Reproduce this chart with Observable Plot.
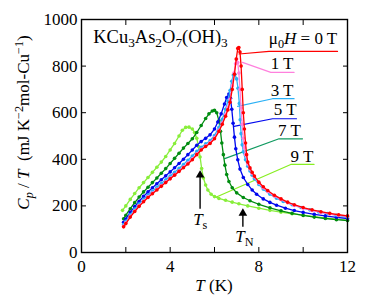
<!DOCTYPE html>
<html><head><meta charset="utf-8">
<script src="https://cdn.jsdelivr.net/npm/d3@7"></script>
<script src="https://cdn.jsdelivr.net/npm/@observablehq/plot@0.6"></script>
<style>
body{margin:0;background:#fff;}
#chart{width:382px;height:304px;}
#chart svg, #chart svg text, #chart svg tspan{font-family:"Liberation Serif","Times New Roman",Times,serif;}
</style></head><body><div id="chart"></div>
<script>
// ---- data ----
const fields = ["0 T", "1 T", "3 T", "5 T", "7 T", "9 T"];
const colors = ["#ff0000", "#ff80dd", "#2ab0f5", "#0008ee", "#008c10", "#88ee3a"];
const leaderColors = ["#ff0000", "#ff80dd", "#2ab0f5", "#0008ee", "#109a60", "#88ee22"];

// 0 T
const t0 = [1.9,2.0,2.2,2.4,2.6,2.8,3.0,3.2,3.4,3.6,3.8,4.0,4.2,4.4,4.6,4.8,5.0,5.2,5.4,5.6,5.8,6.0,6.2,6.35,6.5,6.6,6.7,6.8,6.9,6.98,7.05,7.1,7.15,7.2,7.25,7.3,7.35,7.4,7.45,7.5,7.6,7.7,7.8,8.0,8.2,8.4,8.7,9.0,9.3,9.6,10.0,10.4,10.8,11.2,11.6,12.0];
const c0 = [110,124,152,176,198,218,236,252,268,284,300,316,332,348,364,380,398,420,440,455,468,488,520,550,585,612,645,700,765,830,876,880,860,800,700,600,530,470,420,388,363,344,328,302,282,266,246,230,216,205,193,183,175,168,162,157];
// 1 T
const t1 = [1.9,2.0,2.2,2.4,2.6,2.8,3.0,3.2,3.4,3.6,3.8,4.0,4.2,4.4,4.6,4.8,5.0,5.2,5.4,5.6,5.8,6.0,6.2,6.35,6.5,6.6,6.7,6.8,6.88,6.95,7.0,7.05,7.1,7.15,7.2,7.25,7.3,7.35,7.4,7.5,7.6,7.7,7.8,8.0,8.2,8.4,8.7,9.0,9.3,9.6,10.0,10.4,10.8,11.2,11.6,12.0];
const c1 = [113,127,155,179,201,221,239,255,271,287,303,319,335,351,367,384,402,424,443,458,472,492,525,556,592,622,658,715,770,810,830,815,770,700,620,550,490,450,420,380,358,340,325,298,278,262,242,227,213,202,190,180,172,165,159,154];
// 3 T
const t3 = [1.9,2.0,2.2,2.4,2.6,2.8,3.0,3.2,3.4,3.6,3.8,4.0,4.2,4.4,4.6,4.8,5.0,5.2,5.4,5.6,5.8,6.0,6.2,6.35,6.5,6.6,6.7,6.78,6.85,6.92,7.0,7.06,7.12,7.16,7.2,7.25,7.3,7.4,7.5,7.6,7.7,7.8,8.0,8.2,8.5,8.8,9.1,9.5,9.9,10.3,10.7,11.1,11.5,12.0];
const c3 = [120,134,162,186,208,228,246,263,280,296,312,328,344,361,378,396,414,434,452,466,480,502,537,572,615,650,695,735,762,765,745,705,640,570,510,462,432,398,370,350,332,317,292,272,250,233,219,205,193,183,174,167,160,152];
// 5 T
const t5 = [1.9,2.0,2.2,2.4,2.6,2.8,3.0,3.2,3.4,3.6,3.8,4.0,4.2,4.4,4.6,4.8,5.0,5.2,5.4,5.6,5.8,6.0,6.15,6.3,6.45,6.55,6.65,6.72,6.78,6.84,6.9,6.96,7.05,7.15,7.3,7.5,7.7,7.9,8.2,8.5,8.8,9.2,9.6,10.0,10.5,11.0,11.5,12.0];
const c5 = [130,144,172,197,220,241,260,278,295,312,329,346,364,382,400,420,440,460,476,490,505,530,560,595,637,665,680,662,615,555,495,445,398,358,322,292,268,250,230,215,203,190,180,172,164,157,151,146];
// 7 T
const t7 = [1.9,2.0,2.2,2.4,2.6,2.8,3.0,3.2,3.4,3.6,3.8,4.0,4.2,4.4,4.6,4.8,5.0,5.2,5.4,5.6,5.75,5.9,6.0,6.1,6.2,6.27,6.33,6.4,6.47,6.55,6.65,6.8,7.0,7.3,7.6,8.0,8.5,9.0,9.5,10.0,10.5,11.0,11.5,12.0];
const c7 = [145,160,188,214,238,260,280,300,320,340,360,382,404,426,448,468,488,515,545,575,595,607,610,600,565,520,470,420,375,335,305,278,256,236,222,207,192,179,168,159,152,146,141,137];
// 9 T
const t9 = [1.85,2.0,2.2,2.4,2.6,2.8,3.0,3.2,3.4,3.6,3.8,4.0,4.2,4.4,4.55,4.7,4.85,5.0,5.1,5.2,5.28,5.35,5.42,5.5,5.6,5.7,5.85,6.0,6.2,6.5,6.8,7.1,7.5,8.0,8.5,9.0,9.5,10.0,10.5,11.0,11.5,12.0];
const c9 = [181,200,228,253,278,300,322,344,366,388,412,440,468,500,525,537,538,530,515,490,455,410,360,320,290,268,250,240,232,224,216,209,200,190,181,173,166,160,154,148,143,139];

// legend leader lines (T, C/T) and label anchors
const leadT = [[7.11,8.46,11.55],[7.26,8.54,9.59],[7.04,8.62,9.59],[6.88,8.62,9.70],[6.46,8.91,9.97],[6.06,9.44,10.49]];
const leadC = [[852,863,863],[816,773,773],[627,660,660],[541,574,574],[403,488,488],[237,378,378]];
const labelT = [11.56, 9.07, 9.07, 9.21, 9.4, 9.97];
const labelC = [891, 784, 671, 588, 498, 388];

// annotation arrows: Ts and TN
const arrowNames = ["s", "N"];
const arrowT = [5.35, 7.28];
const arrowFrom = [188, 110];
const arrowTo = [345, 181];
const arrowLabelT = [5.38, 7.37];
const arrowLabelC = [117, 45];

const xTicks = [0,2,4,6,8,10,12];
const xLabels = [0,4,8,12];
const yTicks = [0,200,400,600,800,1000];

// ---- build tables ----
const tsT = [t0,t1,t3,t5,t7,t9], tsC = [c0,c1,c3,c5,c7,c9];
const rows = [];
const order = [5,4,3,2,1,0];
for (const i of order) tsT[i].forEach((t, j) => rows.push({field: fields[i], T: t, C: tsC[i][j], k: i}));
const leaders = [];
leadT.forEach((ts, i) => ts.forEach((t, j) => leaders.push({field: fields[i], T: t, C: leadC[i][j]})));
const arrows = arrowT.map((t, i) => ({T: t, c1: arrowFrom[i], c2: arrowTo[i]}));

const FONT = '"Liberation Serif", "Times New Roman", Times, serif';
const FS = 17;
const fmt = d => String(d);

const marks = [
  Plot.axisX({anchor: "bottom", ticks: xTicks, tickSize: -5, tickFormat: () => "", label: null}),
  Plot.axisX({anchor: "top", ticks: xTicks, tickSize: -5, tickFormat: () => "", label: null}),
  Plot.axisY({anchor: "left", ticks: yTicks, tickSize: -5, tickFormat: () => "", label: null}),
  Plot.axisY({anchor: "right", ticks: yTicks, tickSize: -5, tickFormat: () => "", label: null}),
  Plot.axisX({anchor: "bottom", ticks: xLabels, tickSize: 0, tickPadding: 7, tickFormat: fmt, label: null, fontSize: FS}),
  Plot.axisY({anchor: "left", ticks: yTicks, tickSize: 0, tickPadding: 4, tickFormat: fmt, label: null, fontSize: FS}),
];
fields.forEach((f, i) => {
  marks.push(Plot.line(leaders.filter(d => d.field === f), {x: "T", y: "C", stroke: leaderColors[i], strokeWidth: 1.2}));
});
for (const i of order) {
  const data = rows.filter(d => d.k === i);
  marks.push(Plot.line(data, {x: "T", y: "C", stroke: colors[i], strokeWidth: 1.3, curve: "linear"}));
  marks.push(Plot.dot(data, {x: "T", y: "C", fill: colors[i], r: 1.8, stroke: "none"}));
}
marks.push(Plot.link(arrows, {x1: "T", x2: "T", y1: "c1", y2: "c2", stroke: "black", strokeWidth: 1.4}));
marks.push(Plot.dot(arrows, {x: "T", y: "c2", symbol: "triangle", fill: "black", r: 3.2, dy: 3}));
marks.push(Plot.frame({stroke: "black", strokeWidth: 1.4}));

const plot = Plot.plot({
  width: 382, height: 304,
  marginLeft: 81, marginRight: 35, marginTop: 19, marginBottom: 52,
  x: {domain: [0, 12]},
  y: {domain: [0, 1000]},
  style: {fontFamily: FONT, fontSize: FS + "px", background: "white", color: "black", overflow: "visible"},
  marks
});
document.getElementById("chart").appendChild(plot);

// ---- rich text labels positioned through the plot's scales ----
const sx = plot.scale("x"), sy = plot.scale("y");
const svg = d3.select(plot);
function rich(x, y, parts, anchor, transform, size = FS) {
  const t = svg.append("text").attr("x", x).attr("y", y).attr("text-anchor", anchor)
    .style("font-family", FONT).attr("font-size", size).attr("fill", "black");
  if (transform) t.attr("transform", transform);
  let cur = 0;
  for (const p of parts) {
    const shift = p.sub ? 4 : p.sup ? -6 : 0;
    const s = t.append("tspan").text(p.t);
    if (shift !== cur) s.attr("dy", shift - cur);
    cur = shift;
    if (p.sub || p.sup) s.attr("font-size", size * 0.72);
    if (p.i) s.attr("font-style", "italic");
  }
  return t;
}
// compound name
rich(sx.apply(0.55), sy.apply(896), [{t: "KCu"}, {t: "3", sub: 1}, {t: "As"}, {t: "2", sub: 1}, {t: "O"}, {t: "7", sub: 1}, {t: "(OH)"}, {t: "3", sub: 1}], "start", null, 18.5);
// field labels
rich(sx.apply(labelT[0]), sy.apply(labelC[0]), [{t: "μ"}, {t: "0", sub: 1}, {t: "H", i: 1}, {t: " = 0 T"}], "end");
for (let i = 1; i < fields.length; i++) rich(sx.apply(labelT[i]), sy.apply(labelC[i]), [{t: fields[i]}], "middle");
// transition labels
arrowNames.forEach((n, i) => rich(sx.apply(arrowLabelT[i]), sy.apply(arrowLabelC[i]), [{t: "T", i: 1}, {t: n, sub: 1}], "middle"));
// axis titles
const cx = (sx.range[0] + sx.range[1]) / 2;
rich(cx, 291, [{t: "T", i: 1}, {t: " (K)"}], "middle");
const cy = (sy.range[0] + sy.range[1]) / 2 - 13;
rich(0, 0, [{t: "C", i: 1}, {t: "p", i: 1, sub: 1}, {t: " / "}, {t: "T", i: 1}, {t: "  (mJ K"}, {t: "−2", sup: 1}, {t: "mol-Cu"}, {t: "−1", sup: 1}, {t: ")"}], "middle", `translate(29,${cy}) rotate(-90)`);
</script></body></html>
